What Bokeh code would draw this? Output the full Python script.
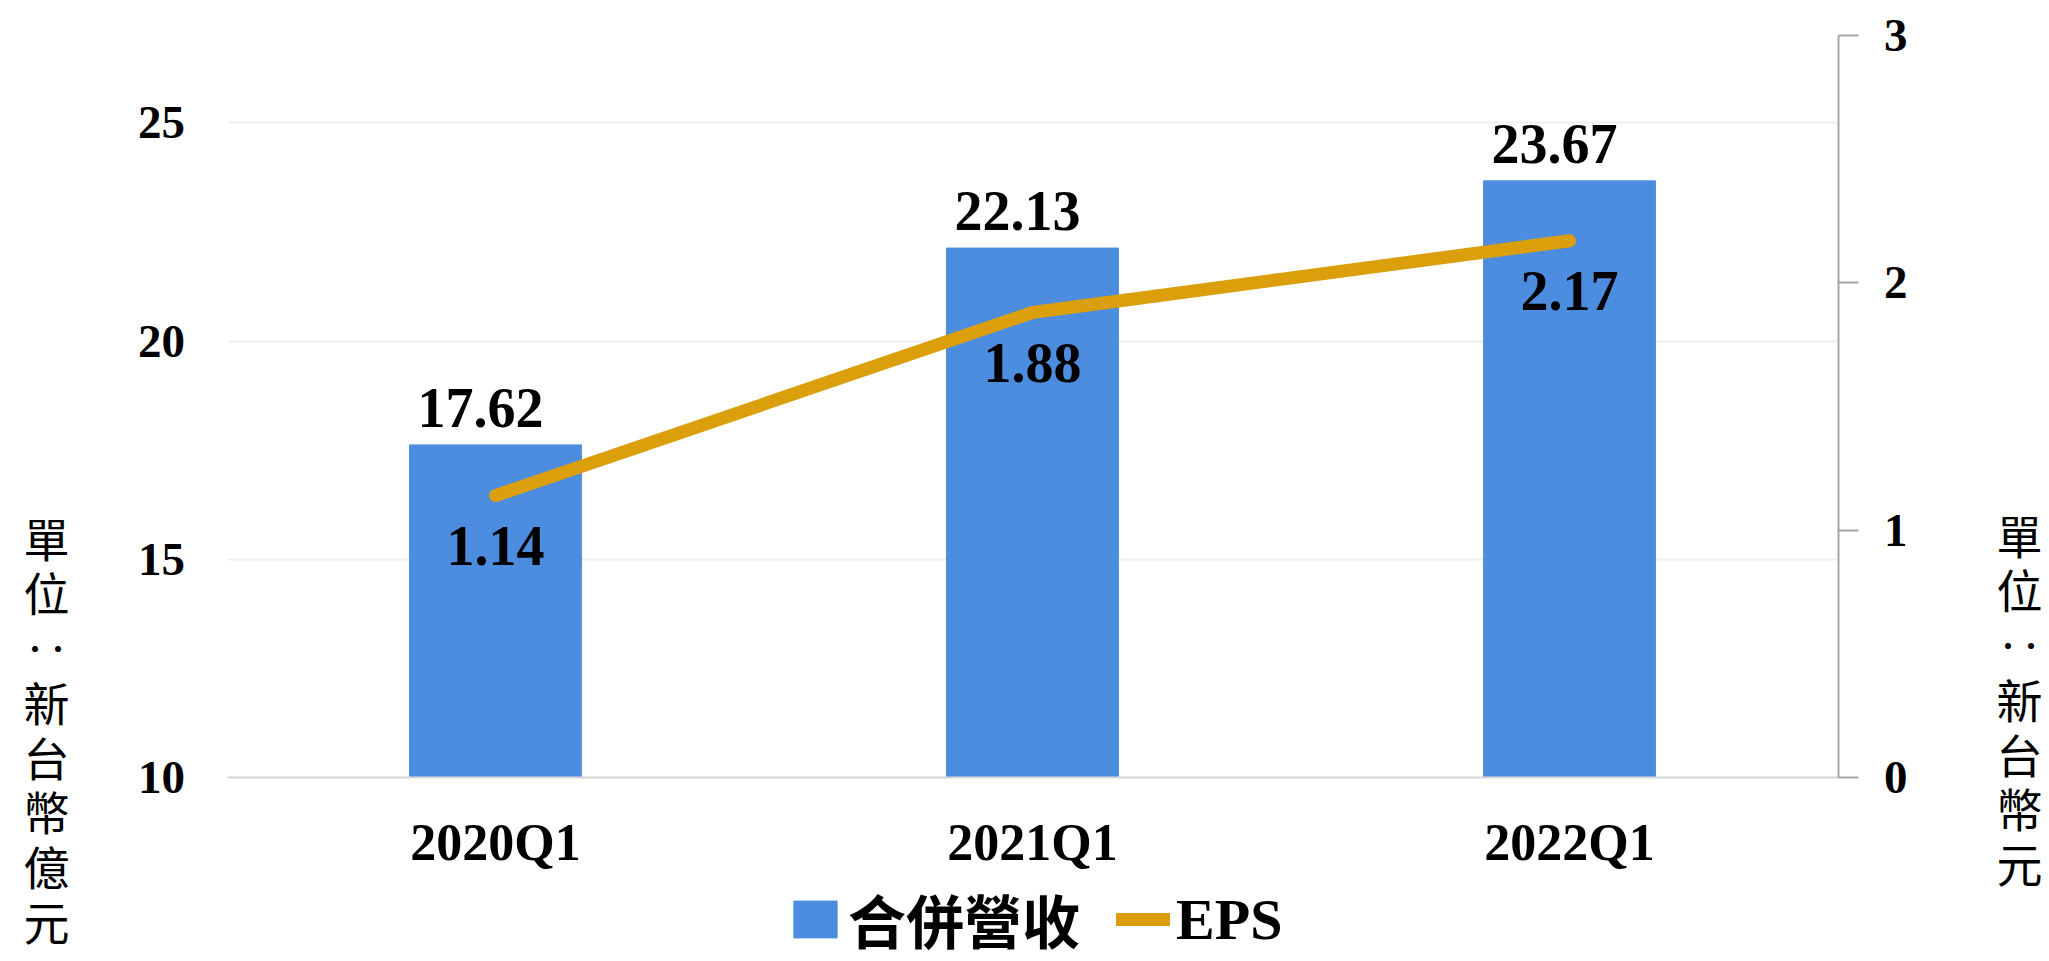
from bokeh.plotting import figure
from bokeh.models import (Range1d, LinearAxis, FixedTicker, Legend, LegendItem, Label,
                          FactorRange, ColumnDataSource)
from bokeh.embed import file_html
from bokeh.resources import INLINE

# ---- data ----
quarters = ["2020Q1", "2021Q1", "2022Q1"]
revenue = [17.62, 22.13, 23.67]      # 合併營收 (新台幣億元)
eps = [1.14, 1.88, 2.17]             # EPS (新台幣元)
left_ticks = [10, 15, 20, 25]
right_ticks = [0, 1, 2, 3]
left_span = (10, 27)                 # value span of the left axis
right_span = (0, 3)                  # value span of the right axis
legend_labels = ["合併營收", "EPS"]
left_title = "單位:新台幣億元"
right_title = "單位:新台幣元"

BAR = "#4C8DDF"
LINE = "#DA9F0B"
SERIF = "Liberation Serif, Noto Sans CJK TC"
CJK = "Noto Sans CJK TC"

# ---- layout (pixels) ----
W, H = 2049, 961
FRAME_L = 15                      # the frame covers the canvas except a thin left strip
PL, PR, PT, PB = 226, 1837, 35, 777   # plot area of the chart inside the frame
n = len(quarters)
unit = (PR - PL) / n
pad_side = ((W - FRAME_L) / unit - n) / 2   # padding applied on each side

ppu_l = (PB - PT) / (left_span[1] - left_span[0])
ppu_r = (PB - PT) / (right_span[1] - right_span[0])
y_left = Range1d(left_span[0] - (H - PB) / ppu_l, left_span[1] + PT / ppu_l)
y_right = Range1d(right_span[0] - (H - PB) / ppu_r, right_span[1] + PT / ppu_r)

src = ColumnDataSource(dict(
    q=quarters, rev=revenue, eps=eps,
    rev_txt=[f"{v:.2f}" for v in revenue],
    eps_txt=[f"{v:.2f}" for v in eps],
))

p = figure(width=W, height=H,
           x_range=FactorRange(*quarters, range_padding=pad_side, range_padding_units="absolute"),
           y_range=y_left, output_backend="svg", toolbar_location=None,
           min_border_left=FRAME_L, min_border_right=0, min_border_top=0, min_border_bottom=0)
p.outline_line_color = None
p.background_fill_color = "white"
p.border_fill_color = "white"
p.extra_y_ranges = {"eps": y_right}

bars = p.vbar(x="q", top="rev", bottom=left_span[0], width=0.32, source=src,
              fill_color=BAR, line_color=BAR)
line = p.line(x="q", y="eps", source=src, y_range_name="eps", line_color=LINE,
              line_width=13, line_cap="round", line_join="round")

p.text(x="q", y="rev", text="rev_txt", source=src, x_offset=-15, y_offset=-37,
       text_align="center", text_baseline="alphabetic", text_font=SERIF,
       text_font_style="bold", text_font_size="56px", text_color="black")
p.text(x="q", y="eps", text="eps_txt", source=src, y_range_name="eps", y_offset=50,
       text_align="center", text_baseline="alphabetic", text_font=SERIF,
       text_font_style="bold", text_font_size="56px", text_color="black")

# left axis (at the left edge of the first category)
ya = p.yaxis[0]
ya.fixed_location = 0
ya.bounds = left_span
ya.ticker = FixedTicker(ticks=left_ticks)
ya.axis_line_color = None
ya.major_tick_line_color = None
ya.minor_tick_line_color = None
ya.major_label_standoff = 36
ya.major_label_text_font = SERIF
ya.major_label_text_font_style = "bold"
ya.major_label_text_font_size = "47px"
ya.major_label_text_color = "black"

# right axis (at the right edge of the last category)
ra = LinearAxis(y_range_name="eps", ticker=FixedTicker(ticks=right_ticks),
                fixed_location=n, bounds=right_span)
ra.axis_line_color = "#a6a6a6"
ra.axis_line_width = 2
ra.major_tick_line_color = "#a6a6a6"
ra.major_tick_line_width = 2
ra.major_tick_out = 20
ra.major_tick_in = 0
ra.minor_tick_line_color = None
ra.major_label_standoff = 26
ra.major_label_text_font = SERIF
ra.major_label_text_font_style = "bold"
ra.major_label_text_font_size = "47px"
ra.major_label_text_color = "black"
p.add_layout(ra, "right")

# x axis (at the bottom of the left value span)
xa = p.xaxis[0]
xa.fixed_location = left_span[0]
xa.bounds = (0, n)
xa.axis_line_color = "#d9d9d9"
xa.axis_line_width = 2
xa.major_tick_line_color = None
xa.minor_tick_line_color = None
xa.major_label_standoff = 30
xa.major_label_text_font = SERIF
xa.major_label_text_font_style = "bold"
xa.major_label_text_font_size = "52px"
xa.major_label_text_color = "black"

p.xgrid.grid_line_color = None
p.ygrid.grid_line_color = "#efefef"
p.ygrid.grid_line_width = 2
try:
    p.ygrid.cross_bounds = (0, n)
except Exception:
    pass

legend = Legend(items=[LegendItem(label=legend_labels[0], renderers=[bars]),
                       LegendItem(label=legend_labels[1], renderers=[line])],
                orientation="horizontal", location=(788 - FRAME_L, 0),
                padding=0, margin=0, spacing=36, label_standoff=6,
                glyph_width=54, glyph_height=46, label_height=46,
                border_line_color=None, background_fill_alpha=0,
                label_text_font=SERIF, label_text_font_style="bold",
                label_text_font_size="58px", label_text_color="black")
p.add_layout(legend)


def stacked(s):
    return "\n".join("‥" if c in ":：" else c for c in s)


for text, cx, top in [(left_title, 46, 503), (right_title, 2019, 500)]:
    p.add_layout(Label(x=cx - FRAME_L, y=H - top, x_units="screen", y_units="screen",
                       text=stacked(text), text_align="center", text_baseline="top",
                       text_font=CJK, text_font_size="46px", text_line_height=0.83,
                       text_color="black"))

open("out.html", "w").write(file_html(p, INLINE))
